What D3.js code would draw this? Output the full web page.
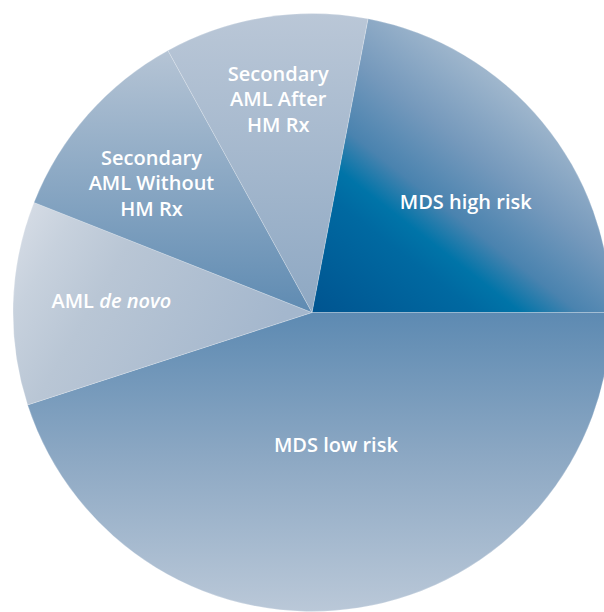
<!DOCTYPE html>
<html>
<head>
<meta charset="utf-8">
<title>AML / MDS pie</title>
<style>
  body { margin: 0; background: #fff; }
  text { font-family: "Open Sans", sans-serif; font-weight: 600; fill: #fff; }
</style>
</head>
<body>
<main></main>
<script src="https://cdn.jsdelivr.net/npm/d3@7/dist/d3.min.js"></script>
<script>
// data (share of cases, %)
var categories = ["MDS high risk", "MDS low risk", "AML de novo",
                  "Secondary AML Without HM Rx", "Secondary AML After HM Rx"];
var shares = [22, 45, 11, 11, 11];
// label lines, each line is a list of [text, italic]
var labelLines = [
    [[["MDS high risk", false]]],
    [[["MDS low risk", false]]],
    [[["AML ", false], ["de novo", true]]],
    [[["Secondary", false]], [["AML Without", false]], [["HM Rx", false]]],
    [[["Secondary", false]], [["AML After", false]], [["HM Rx", false]]]
];

// layout
var width = 604, height = 612;
var cx = 312, cy = 312.5, radius = 299;
var startDeg = 10.8;
var labelRadius = [189, 135, 201, 206, 216];
var labelShiftDeg = [4, -1.2, 1.4, -2.6, 0];
var lineGap = 25.5;

// gradient per slice, coordinates relative to the pie centre
var grads = [
    {x1: 0, y1: 0, x2: 184, y2: -236,
     stops: [[0, "#005490"], [0.34, "#0069a1"], [0.43, "#0074a8"], [0.55, "#4a83af"], [0.75, "#7599bc"], [1, "#a0b7cd"]]},
    {x1: 0, y1: 0, x2: 0, y2: 299,
     stops: [[0, "#5d8ab2"], [0.5, "#8ea9c4"], [1, "#bac8d8"]]},
    {x1: -290, y1: -110, x2: -47, y2: 34,
     stops: [[0, "#d7dde6"], [0.18, "#c7d1dd"], [0.4, "#b9c6d5"], [1, "#a4b7cd"]]},
    {x1: 0, y1: -270, x2: 0, y2: 0,
     stops: [[0, "#b8c6d6"], [1, "#5f8bb2"]]},
    {x1: 0, y1: -299, x2: 0, y2: 0,
     stops: [[0, "#bac7d7"], [1, "#8ea8c3"]]}
];

var svg = d3.select("main").append("svg")
    .attr("width", width).attr("height", height);

var defs = svg.append("defs");
grads.forEach(function (g, i) {
    var lg = defs.append("linearGradient")
        .attr("id", "g" + i)
        .attr("gradientUnits", "userSpaceOnUse")
        .attr("x1", g.x1).attr("y1", g.y1)
        .attr("x2", g.x2).attr("y2", g.y2);
    g.stops.forEach(function (s) {
        lg.append("stop").attr("offset", s[0]).attr("stop-color", s[1]);
    });
});

var rad = Math.PI / 180;
var pie = d3.pie().sort(null)
    .startAngle(startDeg * rad)
    .endAngle(startDeg * rad + 2 * Math.PI);
var arc = d3.arc().innerRadius(0).outerRadius(radius);

var arcs = pie(shares);
var g = svg.append("g").attr("transform", "translate(" + cx + "," + cy + ")");

g.selectAll("path.slice")
    .data(arcs)
    .enter().append("path")
    .attr("class", "slice")
    .attr("d", arc)
    .attr("fill", function (d, i) { return "url(#g" + i + ")"; })
    .attr("stroke", "rgba(255,255,255,0.35)")
    .attr("stroke-width", 0.6);

// labels
var labels = g.selectAll("text.lbl")
    .data(arcs)
    .enter().append("text")
    .attr("class", "lbl")
    .attr("text-anchor", "middle")
    .attr("font-size", 20)
    .attr("transform", function (d, i) {
        var a = (d.startAngle + d.endAngle) / 2 + labelShiftDeg[i] * rad;
        var r = labelRadius[i];
        return "translate(" + (r * Math.sin(a)) + "," + (-r * Math.cos(a)) + ")";
    });

labels.each(function (d, i) {
    var t = d3.select(this);
    var lines = labelLines[i];
    var n = lines.length;
    lines.forEach(function (line, k) {
        var y = (k - (n - 1) / 2) * lineGap + 7;
        line.forEach(function (seg, j) {
            var ts = t.append("tspan").text(seg[0]);
            if (j === 0) ts.attr("x", 0).attr("y", y);
            if (seg[1]) ts.attr("font-style", "italic");
        });
    });
});
</script>
</body>
</html>
